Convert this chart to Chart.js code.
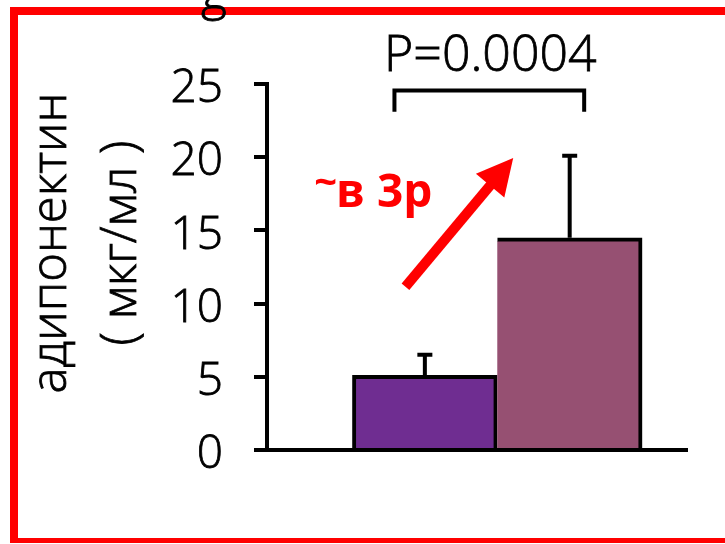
<!DOCTYPE html>
<html>
<head>
<meta charset="utf-8">
<script src="https://cdn.jsdelivr.net/npm/chart.js@4.4.1/dist/chart.umd.min.js"></script>
<style>
  html, body { margin: 0; background: #fff; }
  canvas { display: block; }
</style>
</head>
<body>
<canvas id="adipo" width="725" height="544"></canvas>
<script>
// adiponectin, two groups: mean and upper SD
const groups   = ['группа 1', 'группа 2'];
const means    = [5.1, 14.5];
const sd       = [1.4, 5.6];
const yTicks   = [0, 5, 10, 15, 20, 25];
const yTitle   = ['адипонектин', '( мкг/мл )'];
const pLabel   = 'P=0.0004';
const foldText = ['~', 'в 3р'];

const BAR_COLORS = ['#6f2d91', '#965072'];
const LIGHT = '"Open Sans", "Noto Sans", sans-serif';
const TEXT_STROKE = 0.8;   // light weight is a touch too thin on its own

function lightText(ctx, str, x, y) {
  ctx.fillText(str, x, y);
  ctx.strokeText(str, x, y);
}

const extras = {
  id: 'extras',
  afterDatasetsDraw(chart) {
    const { ctx, scales: { y } } = chart;
    const bars = chart.getDatasetMeta(0).data;
    ctx.save();
    ctx.strokeStyle = '#000';
    ctx.lineWidth = 4;
    bars.forEach((bar, i) => {
      const top = y.getPixelForValue(means[i] + sd[i]);
      ctx.beginPath();
      ctx.moveTo(bar.x, bar.y);
      ctx.lineTo(bar.x, top);
      ctx.moveTo(bar.x - 7.5, top);
      ctx.lineTo(bar.x + 7.5, top);
      ctx.stroke();
    });
    ctx.restore();
  },
  afterDraw(chart) {
    const { ctx, scales: { x, y } } = chart;
    ctx.save();

    // red frame (right side runs off the canvas)
    ctx.fillStyle = '#ff0000';
    ctx.fillRect(10, 7, 715, 8);
    ctx.fillRect(10, 7, 8, 536);
    ctx.fillRect(10, 538, 715, 5);

    // tail of the heading above the frame
    ctx.fillStyle = '#000';
    ctx.strokeStyle = '#000';
    ctx.lineWidth = TEXT_STROKE;
    ctx.font = '300 50px ' + LIGHT;
    ctx.textAlign = 'center';
    ctx.textBaseline = 'alphabetic';
    lightText(ctx, 'g', 214, 9);

    // axis title, two rotated lines
    ctx.font = '300 49px ' + LIGHT;
    ctx.save();
    ctx.translate(66, 243);
    ctx.rotate(-Math.PI / 2);
    lightText(ctx, yTitle[0], 0, 0);
    lightText(ctx, yTitle[1], 0, 70);
    ctx.restore();

    // significance bracket and P value
    const bx1 = x.getPixelForValue(0.79), bx2 = x.getPixelForValue(2.1);
    const by = y.getPixelForValue(24.55), byLeg = y.getPixelForValue(23.1);
    ctx.font = '300 50px ' + LIGHT;
    lightText(ctx, pLabel, (bx1 + bx2) / 2 + 1, y.getPixelForValue(25.9));
    ctx.lineWidth = 4;
    ctx.lineJoin = 'miter';
    ctx.beginPath();
    ctx.moveTo(bx1, byLeg);
    ctx.lineTo(bx1, by);
    ctx.lineTo(bx2, by);
    ctx.lineTo(bx2, byLeg);
    ctx.stroke();

    // red arrow
    const tx = x.getPixelForValue(0.866), ty = y.getPixelForValue(11.15);
    const hx = x.getPixelForValue(1.61), hy = y.getPixelForValue(19.95);
    const ang = Math.atan2(hy - ty, hx - tx);
    const headLen = 36, headHalf = 18.5;
    const baseX = hx - headLen * Math.cos(ang), baseY = hy - headLen * Math.sin(ang);
    ctx.strokeStyle = '#ff0000';
    ctx.fillStyle = '#ff0000';
    ctx.lineWidth = 10;
    ctx.lineCap = 'butt';
    ctx.beginPath();
    ctx.moveTo(tx, ty);
    ctx.lineTo(baseX + 2 * Math.cos(ang), baseY + 2 * Math.sin(ang));
    ctx.stroke();
    ctx.beginPath();
    ctx.moveTo(hx, hy);
    ctx.lineTo(baseX + headHalf * Math.sin(ang), baseY - headHalf * Math.cos(ang));
    ctx.lineTo(baseX - headHalf * Math.sin(ang), baseY + headHalf * Math.cos(ang));
    ctx.closePath();
    ctx.fill();

    // fold-change label, tilde sits high
    const lx = x.getPixelForValue(0.25), ly = y.getPixelForValue(16.6);
    ctx.textAlign = 'left';
    ctx.font = 'bold 40px ' + LIGHT;
    ctx.fillText(foldText[0], lx - 2, ly - 11);
    const tw = ctx.measureText(foldText[0]).width;
    ctx.font = 'bold 46px ' + LIGHT;
    ctx.fillText(foldText[1], lx + tw - 3, ly);

    ctx.restore();
  }
};

new Chart(document.getElementById('adipo'), {
  type: 'bar',
  data: {
    labels: groups,
    datasets: [{
      data: groups.map((g, i) => ({ x: i + 1, y: means[i] })),
      backgroundColor: BAR_COLORS,
      borderColor: '#000',
      borderWidth: c => c.dataIndex === 0
        ? { top: 4, left: 4, right: 4, bottom: 0 }
        : { top: 4, left: 0, right: 4, bottom: 0 },
      barPercentage: 1,
      categoryPercentage: 1
    }]
  },
  options: {
    responsive: false,
    animation: false,
    layout: { padding: { top: 84, right: 38, bottom: 94, left: 0 } },
    plugins: { legend: { display: false }, tooltip: { enabled: false } },
    scales: {
      x: {
        type: 'linear',
        offset: false,
        min: -0.09,
        max: 2.81,
        afterFit: s => { s.height = 0; },
        // one tick per group so the bars fill their whole slot
        afterBuildTicks: s => { s.ticks = groups.map((g, i) => ({ value: i + 1 })); },
        ticks: { display: false },
        grid: { display: false },
        border: { color: '#000', width: 4, z: 1 }
      },
      y: {
        min: yTicks[0],
        max: yTicks[yTicks.length - 1],
        afterFit: s => { s.width = 267; },
        afterBuildTicks: s => { s.ticks = yTicks.map(v => ({ value: v })); },
        grid: { drawOnChartArea: false, tickLength: 13, lineWidth: 4, color: '#000' },
        border: { color: '#000', width: 4, z: 1 },
        ticks: {
          color: '#000',
          padding: 31,
          labelOffset: 5,
          textStrokeColor: '#000',
          textStrokeWidth: TEXT_STROKE,
          font: { family: LIGHT, size: 46, weight: '300' }
        }
      }
    }
  },
  plugins: [extras]
});
</script>
</body>
</html>
